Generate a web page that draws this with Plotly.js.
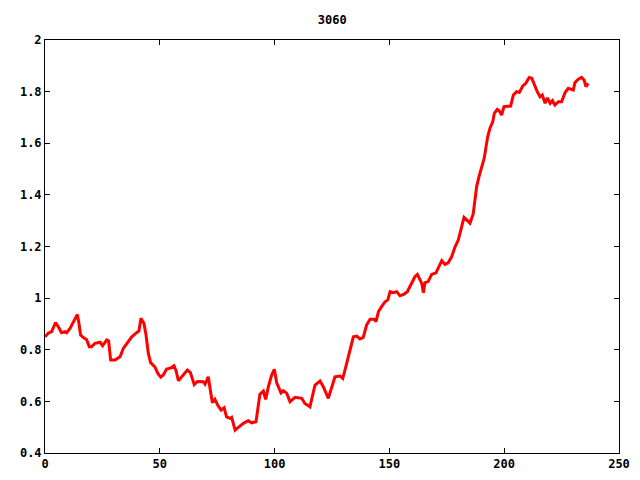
<!DOCTYPE html>
<html>
<head>
<meta charset="utf-8">
<script src="https://cdn.plot.ly/plotly-3.0.1.min.js"></script>
<style>html,body{margin:0;padding:0;background:#fff;}#chart{width:640px;height:480px;}</style>
</head>
<body>
<div id="chart"></div>
<script>
const titleText = "3060";
const xValues = [0,1.4,2.9,4.6,5.8,7.2,8.7,9.4,10.9,12.3,14.1,14.8,15.5,16.7,18.1,19.3,20.3,21.8,24,25.1,26.9,27.7,28.6,30.5,32.7,34.1,35.6,37.8,39.9,40.9,41.8,43.1,44,
45,46,47.9,49.3,50.4,51.5,53,54.9,56.2,57.1,58.1,59.5,60.5,62,63.3,64.2,65,66.4,67.5,68.9,69.7,70.4,71.1,71.9,72.9,74,75.2,76.7,78,79.1,80.6,81.3,82.8,84.2,86.4,88.5,90,91.9,92.9,93.6,95.1,96.1,97.3,98.7,99.9,100.9,102.8,103.8,105.3,106.7,108.9,110.3,
111.8,113.2,115.4,116.4,117.6,119.8,121.2,123.4,124.9,126.3,128.5,129.7,131.4,132.8,134.3,135.8,137.2,138.6,140.1,141.6,143.3,144.2,145.2,146.6,148.1,149.3,150.3,151.7,153.2,154.6,156.4,157.8,159.7,161.1,162.2,163.3,164.1,164.8,165.5,166.9,168.4,170.3,171.7,172.8,174.2,175.6,
177.1,178.6,180,181.2,182.5,183.7,185.1,186.5,187.3,188,189,190.2,191.3,192.1,192.8,193.8,195,195.7,197,197.9,198.9,199.9,201.8,202.8,204,205.4,206.6,208.1,209.4,210.9,212,213.1,214.4,215.6,216.6,217.8,218.8,220,221,222.1,223.6,225,226.5,227.9,229.4,230.1,230.8,232.3,233.7,234.8,235.6,236.6];
const yValues = [0.850,0.864,0.870,0.905,0.889,0.866,0.870,0.866,0.883,0.909,0.937,0.902,0.857,0.847,0.840,0.812,0.812,0.825,0.829,0.816,0.838,0.834,0.760,0.760,0.773,0.805,0.825,0.850,0.866,0.873,0.922,0.902,0.857,
0.786,0.750,0.733,0.706,0.694,0.702,0.725,0.730,0.738,0.718,0.680,0.695,0.705,0.721,0.712,0.683,0.665,0.677,0.676,0.676,0.667,0.683,0.695,0.650,0.595,0.608,0.586,0.566,0.575,0.540,0.534,0.538,0.489,0.499,0.515,0.525,0.517,0.521,0.579,0.628,0.640,0.608,0.657,0.702,0.724,0.672,0.633,0.641,0.631,0.599,0.616,0.614,
0.612,0.592,0.579,0.618,0.663,0.679,0.657,0.612,0.657,0.695,0.698,0.689,0.747,0.799,0.850,0.853,0.842,0.848,0.896,0.918,0.918,0.909,0.947,0.967,0.986,0.993,1.025,1.021,1.025,1.009,1.015,1.025,1.057,1.083,1.092,1.070,1.057,1.021,1.060,1.064,1.092,1.098,1.122,1.145,1.131,1.137,
1.160,1.199,1.225,1.270,1.313,1.303,1.290,1.326,1.380,1.432,1.470,1.503,1.542,1.587,1.625,1.658,1.683,1.716,1.731,1.725,1.709,1.742,1.744,1.744,1.787,1.800,1.797,1.822,1.832,1.855,1.852,1.826,1.800,1.780,1.787,1.755,1.776,1.755,1.765,1.748,1.761,1.761,1.796,1.813,1.810,1.806,1.835,1.848,1.855,1.845,1.819,1.832];
const xTicks = [0,50,100,150,200,250];
const yTicks = [0.4,0.6,0.8,1,1.2,1.4,1.6,1.8,2];
const yTickText = ["0.4","0.6","0.8","1","1.2","1.4","1.6","1.8","2"];

const font = {family: "DejaVu Sans Mono, Liberation Mono, monospace", size: 12, color: "#000", weight: "bold"};
const axisCommon = {
  showline: true, mirror: "ticks", linecolor: "#000", linewidth: 1,
  ticks: "inside", ticklen: 5, tickwidth: 1, tickcolor: "#000",
  showgrid: false, zeroline: false, tickfont: font, fixedrange: true
};
Plotly.newPlot("chart", [{
  x: xValues, y: yValues, type: "scatter", mode: "lines",
  line: {color: "#ff0000", width: 3}, showlegend: false, hoverinfo: "skip"
}], {
  width: 640, height: 480,
  margin: {l: 45, r: 21, t: 40, b: 27},
  paper_bgcolor: "#fff", plot_bgcolor: "#fff",
  title: {text: titleText, font: font, x: 0.519, xanchor: "center", y: 0.958, yanchor: "middle"},
  xaxis: Object.assign({}, axisCommon, {range: [0, 250], tickvals: xTicks, ticktext: xTicks.map(String)}),
  yaxis: Object.assign({}, axisCommon, {range: [0.4, 2], tickvals: yTicks, ticktext: yTickText})
}, {staticPlot: true});
</script>
</body>
</html>
